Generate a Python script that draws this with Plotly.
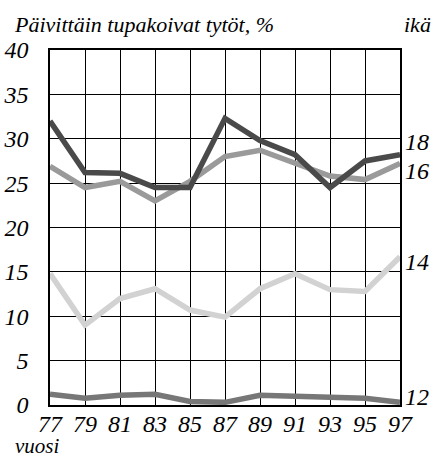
import plotly.graph_objects as go

years = [77, 79, 81, 83, 85, 87, 89, 91, 93, 95, 97]
age18 = [32.0, 26.2, 26.1, 24.5, 24.5, 32.3, 29.8, 28.2, 24.5, 27.5, 28.2]
age16 = [26.9, 24.5, 25.2, 23.0, 25.2, 28.0, 28.7, 27.2, 25.8, 25.4, 27.2]
age14 = [14.8, 9.0, 12.0, 13.1, 10.7, 9.9, 13.1, 14.8, 13.0, 12.8, 16.7]
age12 = [1.2, 0.75, 1.1, 1.2, 0.4, 0.3, 1.1, 1.0, 0.85, 0.75, 0.3]
y_ticks = [0, 5, 10, 15, 20, 25, 30, 35, 40]

series = [
    ("12", age12, "#777777", 5.5),
    ("14", age14, "#d2d2d2", 5.5),
    ("16", age16, "#9a9a9a", 5.5),
    ("18", age18, "#4a4a4a", 5.5),
]
label_shift = {"18": 13, "16": -7, "14": -5, "12": 5}

FONT = "Liberation Serif"
def f(size):
    return dict(family=FONT, size=size, color="black", style="italic")

fig = go.Figure()
for name, vals, col, w in series:
    fig.add_trace(go.Scatter(x=years, y=vals, mode="lines", name=name,
                             line=dict(color=col, width=w), showlegend=False))
    fig.add_annotation(x=years[-1], y=vals[-1], xref="x", yref="y", text=name,
                       showarrow=False, xanchor="left", yanchor="middle", xshift=3,
                       yshift=label_shift[name], font=f(24))

fig.add_annotation(x=12, y=461 - 24, xref="paper", yref="paper", text="Päivittäin tupakoivat tytöt, %",
                   showarrow=False, xanchor="left", yanchor="middle", font=f(22))
fig.add_annotation(x=433, y=461 - 24, xref="paper", yref="paper", text="ikä",
                   showarrow=False, xanchor="right", yanchor="middle", font=f(22))
fig.add_annotation(x=13, y=461 - 446, xref="paper", yref="paper", text="vuosi",
                   showarrow=False, xanchor="left", yanchor="middle", font=f(21))

L, R, T, B = 50, 34, 50, 56
W, H = 434, 461
pw, ph = W - L - R, H - T - B
for ann in fig.layout.annotations[len(series):]:
    ann.x = (ann.x - L) / pw
    ann.y = (ann.y - B) / ph

fig.update_layout(
    width=W, height=H,
    margin=dict(l=L, r=R, t=T, b=B, autoexpand=False),
    paper_bgcolor="white", plot_bgcolor="white",
    xaxis=dict(range=[77, 97], tickvals=years, ticktext=[str(y) for y in years],
               showgrid=True, gridcolor="black", gridwidth=1, zeroline=False,
               showline=True, linecolor="black", linewidth=1.5, mirror=True,
               ticks="", automargin=False, ticklabelstandoff=-4, tickfont=f(24)),
    yaxis=dict(range=[0, 40], tickvals=y_ticks, ticktext=[str(v) for v in y_ticks],
               showgrid=True, gridcolor="black", gridwidth=1, zeroline=False,
               showline=True, linecolor="black", linewidth=1.5, mirror=True,
               ticks="", automargin=False, ticklabelstandoff=15, tickfont=f(24)),
)
fig.write_html("out.html", config={"displayModeBar": False},
               post_script="document.body.style.margin='0px';")
